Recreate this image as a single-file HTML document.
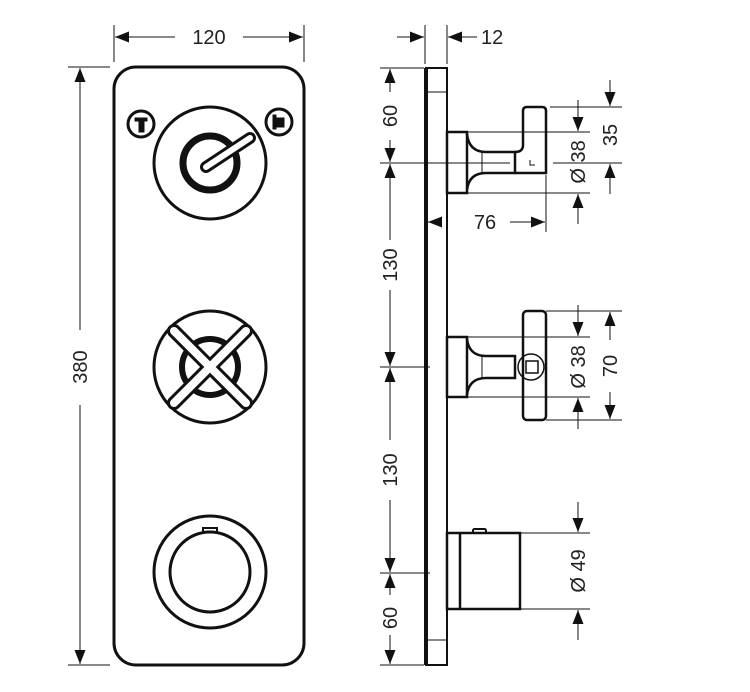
<!DOCTYPE html><html><head><style>body{margin:0;background:#fff}svg{display:block}text{font-family:"Liberation Sans",sans-serif;font-size:20px;fill:#222}</style></head><body>
<svg width="750" height="692" viewBox="0 0 750 692" xmlns="http://www.w3.org/2000/svg">
<defs>
<marker id="a" viewBox="0 0 14 11" refX="14" refY="5.5" markerWidth="14" markerHeight="11" markerUnits="userSpaceOnUse" orient="auto"><path d="M0,0L14,5.5L0,11z" fill="#111"/></marker>
</defs>
<g fill="none" stroke="#111">
<rect x="114" y="67" width="190" height="598" rx="22" stroke-width="3"/>
<line x1="114" y1="25" x2="114" y2="62" stroke-width="1"/>
<line x1="304" y1="25" x2="304" y2="62" stroke-width="1"/>
<line x1="175" y1="37" x2="115" y2="37" marker-end="url(#a)"/>
<line x1="243" y1="37" x2="303" y2="37" marker-end="url(#a)"/>
<line x1="68" y1="67" x2="110" y2="67" stroke-width="1"/>
<line x1="68" y1="665" x2="110" y2="665" stroke-width="1"/>
<line x1="80" y1="330" x2="80" y2="68" marker-end="url(#a)"/>
<line x1="80" y1="405" x2="80" y2="664" marker-end="url(#a)"/>
<circle cx="210" cy="163" r="56" stroke-width="3"/>
<circle cx="210" cy="163" r="27" stroke-width="7"/>
<line x1="206" y1="167" x2="250" y2="138" stroke-width="12" stroke-linecap="round"/>
<line x1="206" y1="167" x2="250" y2="138" stroke="#fff" stroke-width="6" stroke-linecap="round"/>
<circle cx="141" cy="124" r="13" stroke-width="3"/>
<rect x="135" y="118" width="12" height="3" fill="#111"/><rect x="139" y="120" width="5" height="12" fill="#111"/>
<circle cx="279" cy="122" r="13" stroke-width="3"/>
<rect x="273" y="115" width="3" height="14" fill="#111"/><path d="M277,118h7v9h-7z" fill="#111"/>
<circle cx="210" cy="367" r="56" stroke-width="3"/>
<circle cx="210" cy="367" r="28" stroke-width="6"/>
<g stroke-width="14" stroke-linecap="round"><line x1="174" y1="331" x2="246" y2="403"/><line x1="246" y1="331" x2="174" y2="403"/></g>
<g stroke="#fff" stroke-width="8" stroke-linecap="round"><line x1="174" y1="331" x2="246" y2="403"/><line x1="246" y1="331" x2="174" y2="403"/></g>
<circle cx="210" cy="572" r="56" stroke-width="3"/>
<circle cx="210" cy="572" r="40" stroke-width="3"/>
<rect x="203" y="528" width="14" height="4" stroke-width="2"/>
<rect x="426" y="68" width="21" height="597" stroke-width="2"/>
<line x1="426" y1="68" x2="426" y2="665" stroke-width="4"/>
<line x1="427" y1="92" x2="447" y2="92" stroke-width="1"/>
<line x1="427" y1="640" x2="447" y2="640" stroke-width="1"/>
<line x1="425" y1="25" x2="425" y2="64" stroke-width="1"/>
<line x1="447" y1="25" x2="447" y2="64" stroke-width="1"/>
<line x1="397" y1="37" x2="424" y2="37" marker-end="url(#a)"/>
<line x1="477" y1="37" x2="448" y2="37" marker-end="url(#a)"/>
<rect x="447" y="132" width="20" height="61" stroke-width="2.5"/>
<path d="M467,134 Q469,152 486,152 H515 V173 H486 Q469,173 467,190" stroke-width="2.5"/>
<line x1="482" y1="152" x2="482" y2="173" stroke-width="1"/>
<path d="M515,173 H546 V111 Q546,107 542,107 H527 Q523,107 523,111 V145 Q523,152 515,152" stroke-width="2.5"/>
<path d="M530,160 v5 h5" stroke-width="1"/>
<line x1="380" y1="68" x2="424" y2="68" stroke-width="1"/>
<line x1="380" y1="163" x2="510" y2="163" stroke-width="1"/>
<line x1="390" y1="92" x2="390" y2="69" marker-end="url(#a)"/>
<line x1="390" y1="140" x2="390" y2="162" marker-end="url(#a)"/>
<line x1="390" y1="190" x2="390" y2="164" marker-end="url(#a)"/>
<line x1="440" y1="222" x2="428" y2="222" marker-end="url(#a)"/>
<line x1="510" y1="222" x2="545" y2="222" marker-end="url(#a)"/>
<line x1="546" y1="175" x2="546" y2="232" stroke-width="1"/>
<line x1="467" y1="132" x2="590" y2="132" stroke-width="1"/>
<line x1="467" y1="193" x2="590" y2="193" stroke-width="1"/>
<line x1="578" y1="100" x2="578" y2="131" marker-end="url(#a)"/>
<line x1="578" y1="224" x2="578" y2="194" marker-end="url(#a)"/>
<line x1="550" y1="107" x2="622" y2="107" stroke-width="1"/>
<line x1="553" y1="163" x2="622" y2="163" stroke-width="1"/>
<line x1="610" y1="80" x2="610" y2="106" marker-end="url(#a)"/>
<line x1="610" y1="194" x2="610" y2="164" marker-end="url(#a)"/>
<rect x="447" y="337" width="20" height="60" stroke-width="2.5"/>
<path d="M467,339 Q469,356 486,356 H515 V378 H486 Q469,378 467,395" stroke-width="2.5"/>
<line x1="482" y1="356" x2="482" y2="378" stroke-width="1"/>
<rect x="523" y="311" width="23" height="109" rx="4" stroke-width="2.5"/>
<circle cx="531" cy="367" r="13" stroke-width="1.5"/>
<rect x="526" y="361" width="12" height="12" stroke-width="1.5"/>
<line x1="380" y1="367" x2="430" y2="367" stroke-width="1"/>
<line x1="390" y1="345" x2="390" y2="366" marker-end="url(#a)"/>
<line x1="390" y1="390" x2="390" y2="368" marker-end="url(#a)"/>
<line x1="390" y1="190" x2="390" y2="240"/>
<line x1="390" y1="290" x2="390" y2="345"/>
<line x1="467" y1="337" x2="590" y2="337" stroke-width="1"/>
<line x1="467" y1="397" x2="590" y2="397" stroke-width="1"/>
<line x1="578" y1="305" x2="578" y2="336" marker-end="url(#a)"/>
<line x1="578" y1="429" x2="578" y2="398" marker-end="url(#a)"/>
<line x1="546" y1="311" x2="622" y2="311" stroke-width="1"/>
<line x1="546" y1="420" x2="622" y2="420" stroke-width="1"/>
<line x1="610" y1="340" x2="610" y2="312" marker-end="url(#a)"/>
<line x1="610" y1="392" x2="610" y2="419" marker-end="url(#a)"/>
<rect x="447" y="533" width="73" height="76" stroke-width="2.5"/>
<line x1="460" y1="533" x2="460" y2="609" stroke-width="2.5"/>
<rect x="473" y="529" width="13" height="4" rx="1.5" stroke-width="2"/>
<line x1="380" y1="573" x2="430" y2="573" stroke-width="1"/>
<line x1="390" y1="390" x2="390" y2="440"/>
<line x1="390" y1="500" x2="390" y2="572" marker-end="url(#a)"/>
<line x1="390" y1="595" x2="390" y2="574" marker-end="url(#a)"/>
<line x1="390" y1="635" x2="390" y2="664" marker-end="url(#a)"/>
<line x1="380" y1="665" x2="424" y2="665" stroke-width="1"/>
<line x1="520" y1="533" x2="590" y2="533" stroke-width="1"/>
<line x1="520" y1="609" x2="590" y2="609" stroke-width="1"/>
<line x1="578" y1="502" x2="578" y2="532" marker-end="url(#a)"/>
<line x1="578" y1="640" x2="578" y2="610" marker-end="url(#a)"/>
</g>
<text x="209" y="44" text-anchor="middle">120</text>
<text x="481" y="44">12</text>
<text transform="translate(87,367) rotate(-90)" text-anchor="middle">380</text>
<text transform="translate(397,116) rotate(-90)" text-anchor="middle">60</text>
<text transform="translate(397,265) rotate(-90)" text-anchor="middle">130</text>
<text transform="translate(397,470) rotate(-90)" text-anchor="middle">130</text>
<text transform="translate(397,618) rotate(-90)" text-anchor="middle">60</text>
<text x="485" y="229" text-anchor="middle">76</text>
<text transform="translate(585,162) rotate(-90)" text-anchor="middle">Ø 38</text>
<text transform="translate(617,135) rotate(-90)" text-anchor="middle">35</text>
<text transform="translate(585,367) rotate(-90)" text-anchor="middle">Ø 38</text>
<text transform="translate(617,366) rotate(-90)" text-anchor="middle">70</text>
<text transform="translate(585,571) rotate(-90)" text-anchor="middle">Ø 49</text>
</svg>
</body></html>
